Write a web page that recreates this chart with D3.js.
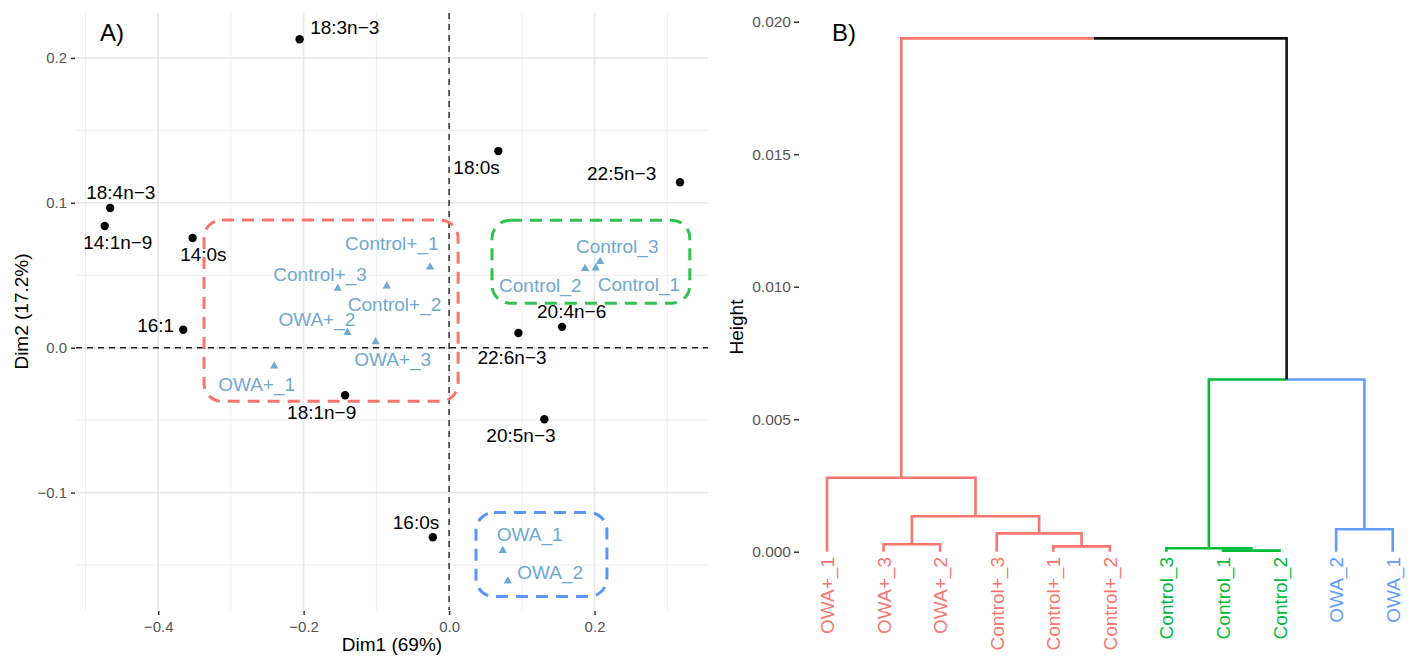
<!DOCTYPE html>
<html>
<head>
<meta charset="utf-8">
<script src="https://cdn.jsdelivr.net/npm/d3@7"></script>
<style>
  html, body { margin: 0; padding: 0; background: #fff; }
  svg { display: block; font-family: "Liberation Sans", Arial, sans-serif; }
</style>
</head>
<body>
<svg id="chart" width="1415" height="658"></svg>
<script>
// ---------------- DATA ----------------
// Panel A: PCA biplot – variables (fatty acids)
const varNames = ["18:3n\u22123","18:4n\u22123","14:1n\u22129","14:0s","16:1","18:1n\u22129","16:0s","18:0s","22:5n\u22123","20:4n\u22126","22:6n\u22123","20:5n\u22123"];
const varDim1  = [-0.2055,-0.466,-0.4735,-0.3526,-0.3656,-0.143,-0.0224,0.0677,0.3175,0.1553,0.0953,0.131];
const varDim2  = [0.2129,0.0964,0.084,0.0757,0.0124,-0.0328,-0.1308,0.1357,0.1142,0.0144,0.0102,-0.0494];

// Panel A: individuals (samples)
const indNames = ["Control+_1","Control+_3","Control+_2","OWA+_2","OWA+_3","OWA+_1","Control_3","Control_2","Control_1","OWA_1","OWA_2"];
const indDim1  = [-0.0261,-0.153,-0.0856,-0.1398,-0.101,-0.2405,0.2076,0.187,0.2016,0.0738,0.0807];
const indDim2  = [0.0557,0.0409,0.0425,0.0105,0.004,-0.0126,0.0594,0.0546,0.0549,-0.14,-0.161];

// Panel A: group boxes (data units)
const boxGroups = ["OWA+/Control+","Control","OWA"];
const boxXmin = [-0.337, 0.059, 0.037];
const boxXmax = [0.0124, 0.331, 0.217];
const boxYmin = [-0.037, 0.0307, -0.1717];
const boxYmax = [0.0881, 0.088, -0.1137];

const xTicks = [-0.4,-0.2,0.0,0.2];
const xMinor = [-0.5,-0.3,-0.1,0.1,0.3];
const yTicks = [-0.1,0.0,0.1,0.2];
const yMinor = [-0.15,-0.05,0.05,0.15];

// Panel B: dendrogram (leaves in plotted order, R-style merge matrix)
const leafNames = ["OWA+_1","OWA+_3","OWA+_2","Control+_3","Control+_1","Control+_2","Control_3","Control_1","Control_2","OWA_2","OWA_1"];
const leafCluster = [0,0,0,0,0,0,1,1,1,2,2];
const mergeA = [-8,-7,-5,-2,-4,-10,4,-1,2,8];
const mergeB = [-9, 1,-6,-3, 3,-11,5, 7,6,9];
const mergeHeight = [0.00004,0.00013,0.0002,0.00028,0.00069,0.00085,0.00134,0.00279,0.0065,0.01937];
const heightTicks = [0.000,0.005,0.010,0.015,0.020];

// ---------------- LAYOUT / STYLE ----------------
const varLabelOffset = [[10.5,-5.5],[-24,-9],[-21.5,23],[-12.5,23],[-46,2.5],[-58,24],[-40,-8],[-45,23],[-93,-2],[-25,-9],[-41,31.5],[-58,23]];
const indLabelOffset = [[-85,-17],[-64.5,-7],[-39,24.5],[-69,-7],[-21.5,24],[-56,25],[-24,-9],[-86,23],[2,23],[-6,-10],[9.5,-2]];
const boxColors = ["#F8766D","#2FC24F","#5B95F9"];
const clusterColors = ["#F8766D","#00BA38","#619CFF"];
const indColor = "#6FA8D2";
const tickColor = "#555555";

const svg = d3.select("#chart");
svg.append("rect").attr("width",1415).attr("height",658).attr("fill","#fff");

// ================= PANEL A =================
const A = { left: 76, right: 708, top: 13, bottom: 610 };
const x = d3.scaleLinear().domain([-0.513, 0.356]).range([A.left, A.right]);
const y = d3.scaleLinear().domain([-0.181, 0.231]).range([A.bottom, A.top]);

const gA = svg.append("g");
// grid
gA.selectAll(".vminor").data(xMinor).join("line")
  .attr("x1", d => x(d)).attr("x2", d => x(d)).attr("y1", A.top).attr("y2", A.bottom)
  .attr("stroke", "#efefef").attr("stroke-width", 1);
gA.selectAll(".hminor").data(yMinor).join("line")
  .attr("y1", d => y(d)).attr("y2", d => y(d)).attr("x1", A.left).attr("x2", A.right)
  .attr("stroke", "#efefef").attr("stroke-width", 1);
gA.selectAll(".vmajor").data(xTicks).join("line")
  .attr("x1", d => x(d)).attr("x2", d => x(d)).attr("y1", A.top).attr("y2", A.bottom)
  .attr("stroke", "#e8e8e8").attr("stroke-width", 1.6);
gA.selectAll(".hmajor").data(yTicks).join("line")
  .attr("y1", d => y(d)).attr("y2", d => y(d)).attr("x1", A.left).attr("x2", A.right)
  .attr("stroke", "#e8e8e8").attr("stroke-width", 1.6);

// axes
const fmt1 = d => d3.format(".1f")(d).replace("-", "\u2212");
const xAxisA = d3.axisBottom(x).tickValues(xTicks).tickSize(4).tickPadding(6).tickFormat(fmt1);
const yAxisA = d3.axisLeft(y).tickValues(yTicks).tickSize(4).tickPadding(4).tickFormat(fmt1);
const gx = gA.append("g").attr("transform", `translate(0,${A.bottom+1})`).call(xAxisA);
const gy = gA.append("g").attr("transform", `translate(${A.left-1},0)`).call(yAxisA);
[gx, gy].forEach(g => {
  g.select(".domain").remove();
  g.selectAll(".tick line").attr("stroke", "#333").attr("stroke-width", 1.5);
  g.selectAll(".tick text").attr("fill", tickColor).attr("font-size", 15)
    .attr("font-family", "Liberation Sans, Arial, sans-serif");
});

// zero lines
gA.append("line").attr("x1", x(0)).attr("x2", x(0)).attr("y1", A.top).attr("y2", A.bottom)
  .attr("stroke", "#222").attr("stroke-width", 1.4).attr("stroke-dasharray", "6,5");
gA.append("line").attr("x1", A.left).attr("x2", A.right).attr("y1", y(0)).attr("y2", y(0))
  .attr("stroke", "#222").attr("stroke-width", 1.4).attr("stroke-dasharray", "6,5");

// variable points + labels
gA.selectAll(".vpt").data(varNames).join("circle")
  .attr("cx", (d,i) => x(varDim1[i])).attr("cy", (d,i) => y(varDim2[i])).attr("r", 4.2).attr("fill", "#000");
gA.selectAll(".vlab").data(varNames).join("text")
  .attr("x", (d,i) => x(varDim1[i]) + varLabelOffset[i][0])
  .attr("y", (d,i) => y(varDim2[i]) + varLabelOffset[i][1])
  .attr("font-size", 19).attr("fill", "#000").text(d => d);

// individuals
gA.selectAll(".ipt").data(indNames).join("path")
  .attr("d", d3.symbol(d3.symbolTriangle).size(30))
  .attr("transform", (d,i) => `translate(${x(indDim1[i])},${y(indDim2[i])})`)
  .attr("fill", indColor);
gA.selectAll(".ilab").data(indNames).join("text")
  .attr("x", (d,i) => x(indDim1[i]) + indLabelOffset[i][0])
  .attr("y", (d,i) => y(indDim2[i]) + indLabelOffset[i][1])
  .attr("font-size", 19).attr("fill", indColor).text(d => d);

// group boxes
gA.selectAll(".box").data(boxGroups).join("rect")
  .attr("x", (d,i) => x(boxXmin[i])).attr("y", (d,i) => y(boxYmax[i]))
  .attr("width", (d,i) => x(boxXmax[i]) - x(boxXmin[i]))
  .attr("height", (d,i) => y(boxYmin[i]) - y(boxYmax[i]))
  .attr("rx", 18).attr("ry", 18)
  .attr("fill", "none").attr("stroke", (d,i) => boxColors[i])
  .attr("stroke-width", 3).attr("stroke-dasharray", "12,8");

// titles
gA.append("text").attr("x", (A.left + A.right)/2).attr("y", 651).attr("text-anchor", "middle")
  .attr("font-size", 19).attr("fill", "#000").text("Dim1 (69%)");
gA.append("text").attr("transform", `translate(28,${(A.top + A.bottom)/2}) rotate(-90)`)
  .attr("text-anchor", "middle").attr("font-size", 19).attr("fill", "#000").text("Dim2 (17.2%)");
gA.append("text").attr("x", 100).attr("y", 41).attr("font-size", 24).attr("fill", "#000").text("A)");

// ================= PANEL B =================
const xl = d3.scaleLinear().domain([1, 11]).range([827, 1392.7]);
const yh = d3.scaleLinear().domain([0, 0.02]).range([551.7, 21.7]);
const gB = svg.append("g");

const yAxisB = d3.axisLeft(yh).tickValues(heightTicks).tickSize(5).tickPadding(3).tickFormat(d3.format(".3f"));
const gyb = gB.append("g").attr("transform", "translate(799,0)").call(yAxisB);
gyb.select(".domain").remove();
gyb.selectAll(".tick line").attr("stroke", "#333").attr("stroke-width", 1.5);
gyb.selectAll(".tick text").attr("fill", tickColor).attr("font-size", 15.5)
  .attr("font-family", "Liberation Sans, Arial, sans-serif");

gB.append("text").attr("transform", "translate(743,327) rotate(-90)")
  .attr("text-anchor", "middle").attr("font-size", 19).attr("fill", "#000").text("Height");
gB.append("text").attr("x", 832).attr("y", 41).attr("font-size", 24).attr("fill", "#000").text("B)");

// build nodes from merge matrix
const leafNodes = leafNames.map((n,i) => ({ pos: i + 1, h: 0, cluster: leafCluster[i] }));
const mergeNodes = [];
const getNode = k => k < 0 ? leafNodes[-k - 1] : mergeNodes[k - 1];
mergeA.forEach((a, i) => {
  const na = getNode(a), nb = getNode(mergeB[i]);
  const node = { pos: (na.pos + nb.pos)/2, h: mergeHeight[i], left: na, right: nb,
    cluster: na.cluster === nb.cluster ? na.cluster : -1 };
  mergeNodes.push(node);
});
const elbows = [];
mergeNodes.forEach(n => {
  [n.left, n.right].forEach(c => {
    elbows.push({ cx: c.pos, ch: c.h, px: n.pos, ph: n.h, cluster: c.cluster });
  });
});
gB.selectAll(".seg").data(elbows).join("path")
  .attr("d", e => `M${xl(e.cx)},${yh(e.ch)}V${yh(e.ph)}H${xl(e.px)}`)
  .attr("fill", "none")
  .attr("stroke", e => e.cluster >= 0 ? clusterColors[e.cluster] : "#111")
  .attr("stroke-width", 2.6).attr("stroke-linejoin", "miter");

// leaf labels
gB.selectAll(".leaf").data(leafNames).join("text")
  .attr("transform", (d,i) => `translate(${xl(i + 1) + 7},557) rotate(-90)`)
  .attr("text-anchor", "end").attr("font-size", 19)
  .attr("fill", (d,i) => clusterColors[leafCluster[i]]).text(d => d);
</script>
</body>
</html>
